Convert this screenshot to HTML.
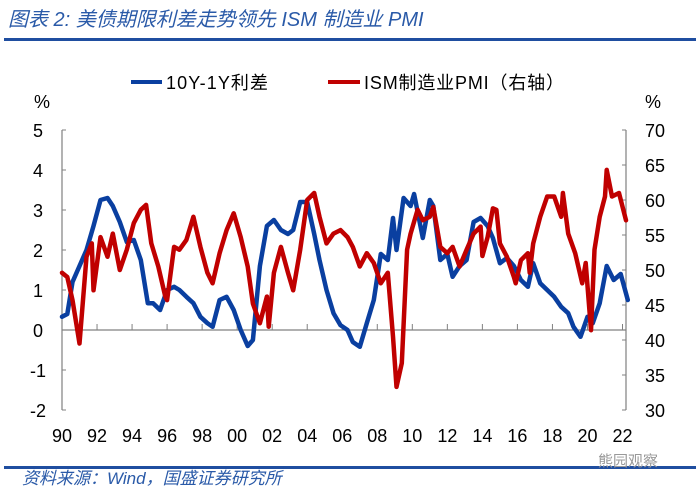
<!DOCTYPE html>
<html><head><meta charset="utf-8">
<style>
body{margin:0;background:#fff;width:700px;height:491px;overflow:hidden;font-family:"Liberation Sans","Noto Sans CJK SC",sans-serif;}
svg text{font-family:"Liberation Sans","Noto Sans CJK SC",sans-serif;}
</style></head>
<body>
<svg id="chart" width="700" height="491">
<text x="8" y="26" font-size="20" font-style="italic" fill="#2a5aa8">图表 2:  美债期限利差走势领先 ISM 制造业 PMI</text>
<rect x="4" y="38" width="692" height="3" fill="#1f4ea0"/>
<g>
<line x1="131" y1="82" x2="162" y2="82" stroke="#0a3fa0" stroke-width="4"/>
<text x="166" y="89" font-size="18" fill="#000" textLength="102">10Y-1Y利差</text>
<line x1="328" y1="82" x2="360" y2="82" stroke="#c00000" stroke-width="4"/>
<text x="364" y="89" font-size="18" fill="#000" textLength="200">ISM制造业PMI（右轴）</text>
</g>
<text x="34" y="108" font-size="18">%</text>
<text x="645" y="108" font-size="18">%</text>
<g id="axes"></g>
<g id="series"></g>
<rect x="4" y="466" width="692" height="3" fill="#1f4ea0"/>
<text x="22" y="484" font-size="17" font-style="italic" fill="#2a5aa8">资料来源：Wind，国盛证券研究所</text>
<text x="598" y="466" font-size="15" fill="#999">熊园观察</text>
</svg>
<script>
const leftTicks=[5,4,3,2,1,0,-1,-2];
const rightTicks=[70,65,60,55,50,45,40,35,30];
const xTickLabels=["90","92","94","96","98","00","02","04","06","08","10","12","14","16","18","20","22"];
const spreadYears=[1990.0,1990.3,1990.6,1991.0,1991.4,1991.8,1992.2,1992.6,1992.9,1993.3,1993.7,1994.1,1994.5,1994.9,1995.2,1995.6,1996.0,1996.4,1996.7,1997.1,1997.5,1997.9,1998.3,1998.6,1999.0,1999.4,1999.8,2000.2,2000.6,2000.9,2001.3,2001.7,2002.1,2002.5,2002.9,2003.2,2003.6,2004.0,2004.4,2004.7,2005.1,2005.5,2005.9,2006.3,2006.6,2007.0,2007.4,2007.8,2008.2,2008.6,2008.9,2009.1,2009.5,2009.9,2010.1,2010.6,2011.0,2011.2,2011.6,2012.0,2012.3,2012.7,2013.1,2013.5,2013.9,2014.3,2014.6,2015.0,2015.4,2015.8,2016.2,2016.6,2016.9,2017.3,2017.7,2018.1,2018.5,2018.9,2019.2,2019.6,2020.0,2020.3,2020.7,2021.1,2021.5,2021.9,2022.3];
const spreadValues=[0.33,0.4,1.2,1.6,2.0,2.6,3.25,3.3,3.1,2.7,2.2,2.25,1.75,0.67,0.67,0.5,1.0,1.08,1.0,0.83,0.67,0.33,0.17,0.08,0.75,0.83,0.5,0,-0.4,-0.25,1.6,2.6,2.75,2.5,2.4,2.5,3.2,3.2,2.4,1.75,1.0,0.42,0.12,0.0,-0.3,-0.42,0.17,0.75,1.9,1.75,2.8,2.0,3.3,3.1,3.4,2.3,3.25,3.1,1.75,1.9,1.33,1.6,1.75,2.7,2.8,2.6,2.3,1.67,1.8,1.6,1.25,1.08,1.67,1.17,1.0,0.83,0.58,0.42,0.08,-0.17,0.33,0.17,0.67,1.6,1.25,1.4,0.75];
const pmiYears=[1990.0,1990.3,1990.6,1991.0,1991.4,1991.7,1991.8,1992.2,1992.6,1992.9,1993.3,1993.7,1994.1,1994.5,1994.8,1995.1,1995.5,1995.9,1996.0,1996.4,1996.7,1997.1,1997.5,1997.9,1998.3,1998.6,1999.0,1999.4,1999.8,2000.2,2000.6,2000.9,2001.3,2001.7,2001.8,2002.1,2002.5,2002.9,2003.2,2003.6,2004.0,2004.4,2004.7,2005.1,2005.5,2005.9,2006.3,2006.6,2007.0,2007.4,2007.8,2008.2,2008.6,2008.9,2009.1,2009.4,2009.7,2009.9,2010.3,2010.6,2011.0,2011.2,2011.6,2012.0,2012.3,2012.7,2013.1,2013.5,2013.9,2014.0,2014.3,2014.6,2014.8,2015.0,2015.4,2015.8,2015.9,2016.2,2016.6,2016.7,2016.9,2017.3,2017.7,2018.1,2018.5,2018.6,2018.9,2019.3,2019.7,2019.9,2020.2,2020.4,2020.7,2021.0,2021.1,2021.4,2021.8,2022.2];
const pmiValues=[49.6,49.0,45.7,39.5,51.9,53.8,47.1,54.7,51.9,55.2,50,52.9,56.7,58.6,59.3,53.8,50.5,46.2,45.7,53.3,52.9,54.3,57.6,53.3,49.6,48.1,52.4,55.7,58.1,54.7,50.5,45.2,42.4,46.2,41.9,49.6,53.3,49.6,47.1,52.9,60,61,57.6,53.8,55.2,55.7,54.7,53.3,50.5,52.4,51.0,48.1,49.6,40.5,33.3,36.7,52.9,55.2,58.6,57.1,57.6,59.0,53.3,52.4,53.3,50.5,52.9,55.2,56.2,52.0,54.7,58.8,58.6,53.8,51.9,49.0,48.1,51.4,52.4,49.6,53.8,57.6,60.5,60.5,57.6,61,55.2,52.4,48.1,51.0,41.4,52.9,57.6,60.5,64.3,60.5,61,57.1];

const NS="http://www.w3.org/2000/svg";
const X0=62,X1=626;
function xs(yr){return X0+(yr-1990)*(X1-X0)/32.2;}
function yl(v){return 330-v*40;}
function yr(v){return 130+(70-v)*7;}
function mk(tag,attrs,parent){const e=document.createElementNS(NS,tag);for(const k in attrs)e.setAttribute(k,attrs[k]);parent.appendChild(e);return e;}
const axes=document.getElementById('axes');
let e;
e=mk('line',{x1:X0,y1:130,x2:X0,y2:410,stroke:'#808080','stroke-width':1.2},axes);


e=mk('line',{x1:X1,y1:130,x2:X1,y2:410,stroke:'#808080','stroke-width':1.2},axes);


e=mk('line',{x1:X0,y1:yl(0),x2:X1,y2:yl(0),stroke:'#808080','stroke-width':1.2},axes);


leftTicks.forEach(v=>{
 mk('line',{x1:X0,y1:yl(v),x2:X0+4,y2:yl(v),stroke:'#808080'},axes);
 e=mk('text',{x:38,y:yl(v)+7,'font-size':18,'text-anchor':'middle'},axes);
 e.textContent=v;
 
 
});
rightTicks.forEach(v=>{
 mk('line',{x1:X1-4,y1:yr(v),x2:X1,y2:yr(v),stroke:'#808080'},axes);
 e=mk('text',{x:655,y:yr(v)+7,'font-size':18,'text-anchor':'middle'},axes);
 e.textContent=v;
 
 
});
xTickLabels.forEach((lab,i)=>{
 const x=xs(1990+2*i);
 mk('line',{x1:x,y1:yl(0),x2:x,y2:yl(0)-6,stroke:'#808080'},axes);
 e=mk('text',{x:x,y:442,'font-size':18,'text-anchor':'middle'},axes);
 e.textContent=lab;
 
 
});
const ser=document.getElementById('series');
function path(xsArr,vals,yf,color){
 let d='';xsArr.forEach((t,i)=>{d+=(i?'L':'M')+xs(t).toFixed(1)+','+yf(vals[i]).toFixed(1);});
 return mk('path',{d:d,fill:'none',stroke:color,'stroke-width':4.5,'stroke-linejoin':'round','stroke-linecap':'round'},ser);
}
e=path(spreadYears,spreadValues,yl,'#0a3fa0');


e=path(pmiYears,pmiValues,yr,'#c00000');


</script>
</body></html>
